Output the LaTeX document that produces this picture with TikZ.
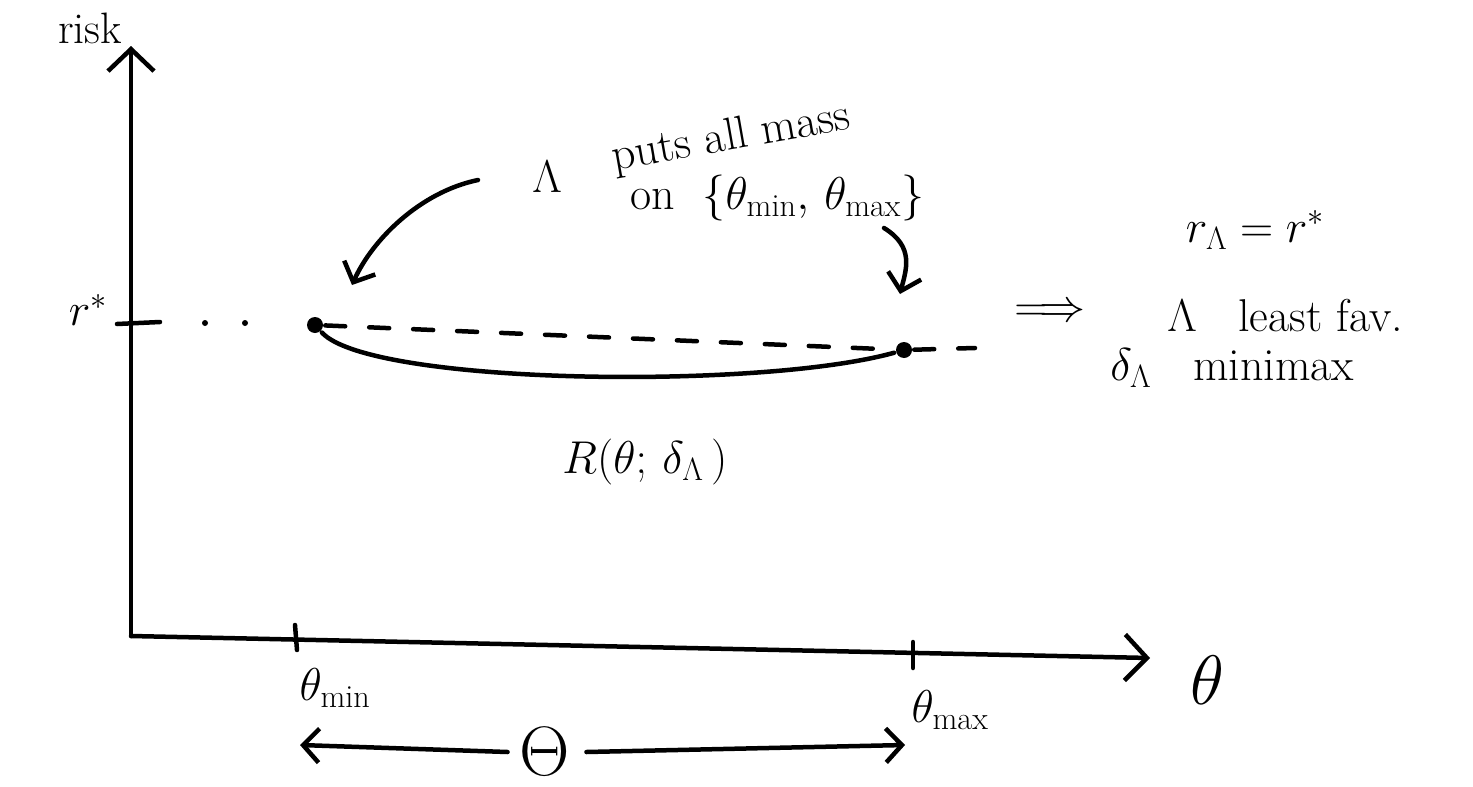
\RequirePackage{fix-cm}
\documentclass[tikz,border=0pt]{standalone}
\usepackage{fontspec}
\usetikzlibrary{arrows.meta}
\begin{document}
\begin{tikzpicture}[x=1pt,y=-1pt,line width=4.5pt,line cap=round,line join=round,
  hand/.style={font=\fontsize{46}{52}\selectfont\addfontfeatures{LetterSpace=12},inner sep=0pt},
  big/.style={font=\fontsize{70}{80}\selectfont,inner sep=0pt},
  small/.style={font=\fontsize{44}{50}\selectfont\addfontfeatures{LetterSpace=15},inner sep=0pt},
  axisarrow/.style={-{Straight Barb[length=22pt,width=46pt,line width=4.5pt]}},
  openarrow/.style={-{Straight Barb[length=16pt,width=34pt,line width=4.5pt]}},
  dot/.style={circle,fill,inner sep=0pt,minimum size=16pt},
  dashline/.style={dash pattern=on 20pt off 24pt}]
\useasboundingbox (0,0) rectangle (1473,787);
% axes
\coordinate (O) at (131,636);
\coordinate (ytop) at (131,46);
\coordinate (xend) at (1150,658);
\draw[axisarrow] (O) -- (ytop);
\draw[axisarrow] (O) -- (xend);
\node[small] (risk) at (90,28) {risk};
\node[big] (thetaax) at (1207,680) {$\theta$};
% ticks
\coordinate (tk1a) at (295,625); \coordinate (tk1b) at (297,650);
\coordinate (tk2a) at (913,642); \coordinate (tk2b) at (913,668);
\draw (tk1a) -- (tk1b);
\draw (tk2a) -- (tk2b);
\node[hand] (tmin) at (335,688) {$\theta_{\min}$};
\node[hand] (tmax) at (950,710) {$\theta_{\max}$};
% r* level
\node[hand] (rstar) at (88,310) {$r^*$};
\coordinate (rt1) at (117,324); \coordinate (rt2) at (160,322);
\draw (rt1) -- (rt2);
\fill (205,323) circle (3pt);
\fill (245,323) circle (3pt);
\node[dot] (pmin) at (315,325) {};
\node[dot] (pmax) at (904,350) {};
\coordinate (rend) at (975,348);
\draw[dashline] (pmin) -- (pmax) -- (rend);
% risk curve
\draw (pmin) .. controls (370,385) and (760,390) .. (pmax);
\node[hand] (Rlab) at (645,462) {$R(\theta;\,\delta_\Lambda\,)$};
% annotation
\node[hand] (lam) at (547,177) {$\Lambda$};
\node[hand,anchor=west,rotate=10] (puts) at (610,160) {puts all mass};
\node[hand,anchor=west] (on) at (628,198) {on\ \ $\{\theta_{\min},\,\theta_{\max}\}$};
\coordinate (a1s) at (478,180);
\coordinate (a1e) at (352,285);
\draw[openarrow] (a1s) .. controls (420,192) and (372,240) .. (a1e);
\coordinate (a2s) at (884,228);
\coordinate (a2e) at (900,294);
\draw[openarrow] (a2s) .. controls (915,247) and (906,270) .. (a2e);
% conclusions
\node[hand] (rl) at (1255,230) {$r_\Lambda = r^*$};
\node[hand] (impl) at (1050,313) {$\Longrightarrow$};
\node[hand,anchor=west] (lf) at (1165,316) {$\Lambda$\ \ \ least fav.};
\node[hand,anchor=west] (mm) at (1108,368) {$\delta_\Lambda$\ \ \ minimax};
% parameter space
\node[big] (Theta) at (545,752) {$\Theta$};
\coordinate (tl) at (300,745);
\coordinate (tr) at (905,745);
\draw[openarrow] ([xshift=-10pt]Theta.west) -- (tl);
\draw[openarrow] ([xshift=14pt]Theta.east) -- (tr);
\end{tikzpicture}
\end{document}
